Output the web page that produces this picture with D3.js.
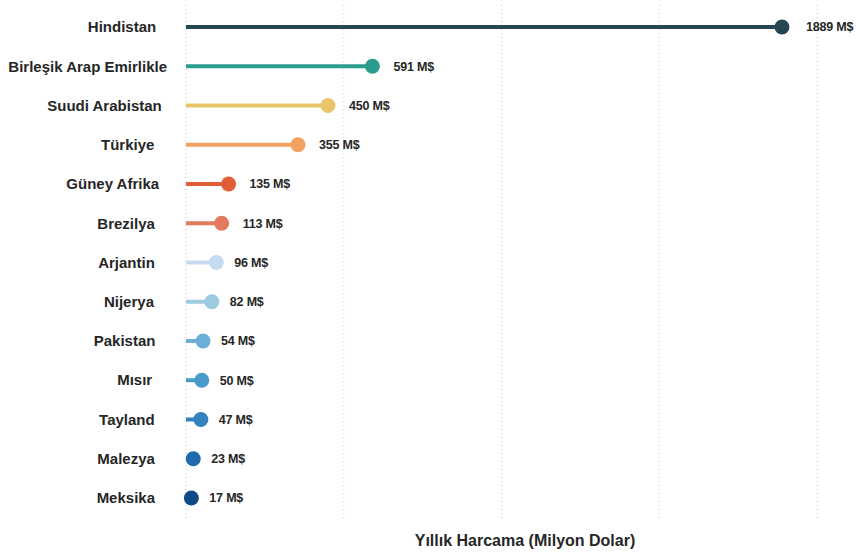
<!DOCTYPE html>
<html>
<head>
<meta charset="utf-8">
<script src="https://cdn.jsdelivr.net/npm/d3@7"></script>
<style>
  html, body { margin: 0; padding: 0; background: #fff; }
  svg { display: block; }
  text { font-family: "Liberation Sans", Arial, Helvetica, sans-serif; font-weight: bold; fill: #262626; }
</style>
</head>
<body>
<svg id="chart" width="856" height="555"></svg>
<script>
const countries = ["Hindistan", "Birleşik Arap Emirlikle", "Suudi Arabistan", "Türkiye", "Güney Afrika",
  "Brezilya", "Arjantin", "Nijerya", "Pakistan", "Mısır", "Tayland", "Malezya", "Meksika"];
const spending = [1889, 591, 450, 355, 135, 113, 96, 82, 54, 50, 47, 23, 17];
const colors = ["#264653", "#2a9d8f", "#e9c46a", "#f4a261", "#e05d35", "#e27a5d", "#c6dbef",
  "#9ecae1", "#6baed6", "#4b9bca", "#3182bd", "#1f69ad", "#0d4a86"];
const xTicks = [0, 500, 1000, 1500, 2000];
const axisTitle = "Yıllık Harcama (Milyon Dolar)";
const unit = " M$";

const data = countries.map((c, i) => ({ country: c, value: spending[i], color: colors[i] }));

const svg = d3.select("#chart");
const x = d3.scaleLinear().domain([0, 2000]).range([186, 817]);
const y = d3.scaleBand().domain(countries).range([7.4, 517.6]);
const gridTop = 5, gridBottom = 520;

// grid
svg.append("g").selectAll("line").data(xTicks).join("line")
  .attr("x1", d => x(d)).attr("x2", d => x(d))
  .attr("y1", gridTop).attr("y2", gridBottom)
  .attr("stroke", "#c4c4c4").attr("stroke-width", 1)
  .attr("stroke-dasharray", "1,3");

const rows = svg.append("g").selectAll("g").data(data).join("g")
  .attr("transform", d => `translate(0,${y(d.country) + y.bandwidth() / 2})`);

rows.append("line")
  .attr("x1", x(0)).attr("x2", d => x(d.value))
  .attr("y1", 0).attr("y2", 0)
  .attr("stroke", d => d.color).attr("stroke-width", 4);

rows.append("circle")
  .attr("cx", d => x(d.value)).attr("cy", 0).attr("r", 7.5)
  .attr("fill", d => d.color);

rows.append("text")
  .attr("x", d => x(d.value) + 12 + 3 * String(d.value).length)
  .attr("y", 0).attr("dy", "0.35em")
  .style("font-size", "12.5px")
  .style("letter-spacing", "-0.2px")
  .text(d => d.value + unit);

rows.append("text")
  .attr("class", "cat")
  .attr("y", 0).attr("dy", "0.35em")
  .attr("text-anchor", "end")
  .style("font-size", "15px")
  .text(d => d.country)
  .each(function () {
    const w = this.getComputedTextLength();
    d3.select(this).attr("x", 148 + 0.12 * w);
  });

svg.append("text")
  .attr("x", 525).attr("y", 546)
  .attr("text-anchor", "middle")
  .style("font-size", "16px")
  .text(axisTitle);
</script>
</body>
</html>
